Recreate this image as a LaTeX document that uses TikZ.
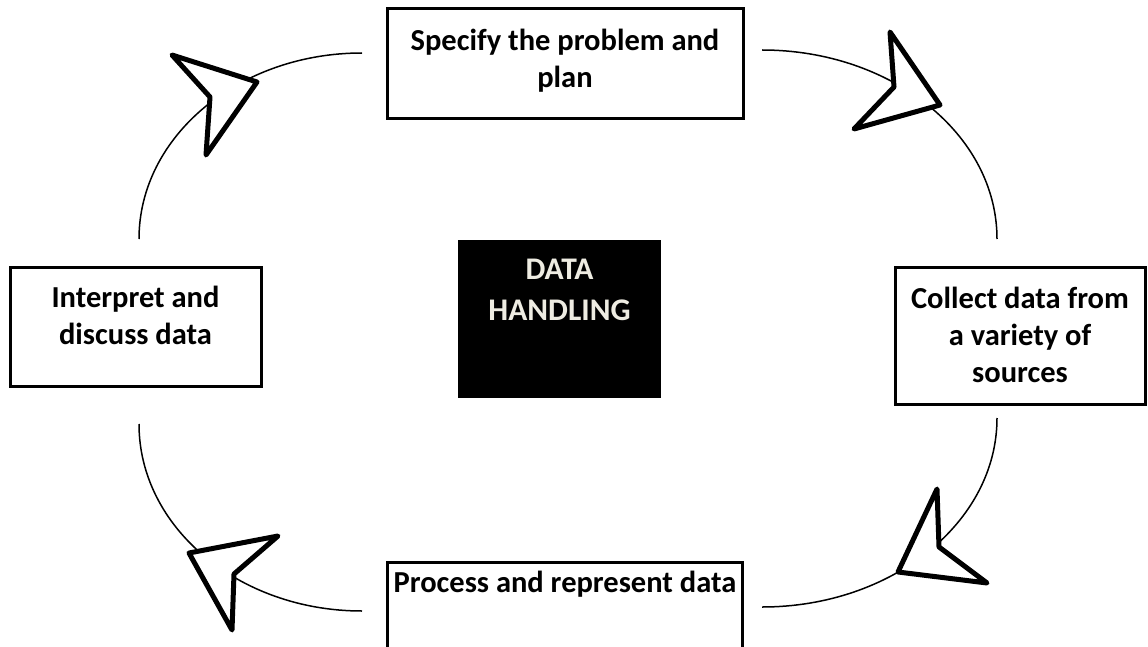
\documentclass[tikz,border=0pt]{standalone}
\usepackage{fontspec}
\setmainfont{Carlito}
\definecolor{dhtext}{RGB}{238,236,226}
\tikzset{
  stepbox/.style={draw, line width=3pt, fill=white, inner sep=0pt},
  corebox/.style={fill=black, inner sep=0pt},
  lbl/.style={align=center, inner sep=0pt, font=\fontsize{30.5}{37}\selectfont\bfseries},
  corelbl/.style={align=center, inner sep=0pt, text=dhtext, font=\fontsize{31.5}{41}\selectfont\bfseries},
  cyclearc/.style={line width=1.5pt},
  headshape/.style={draw, fill=white, line width=5pt, line join=round}
}
\begin{document}
\begin{tikzpicture}[x=1pt,y=-1pt]
\useasboundingbox (0,0) rectangle (1148,647);
\clip (0,0) rectangle (1148,647);

% boxes
\node[stepbox, minimum width=356pt, minimum height=110pt] (spec) at (565,64) {};
\node[stepbox, minimum width=250pt, minimum height=137pt] (coll) at (1020,335.5) {};
\node[stepbox, minimum width=251pt, minimum height=119pt] (interp) at (135.5,326.5) {};
\node[stepbox, minimum width=355pt, minimum height=120pt] (proc) at (564.5,622) {};
\node[corebox, minimum width=203pt, minimum height=158pt] (core) at (559.5,319) {};

% labels
\node[lbl] (specT) at (565,61) {Specify the problem and\\plan};
\node[lbl] (collT) at (1020,335) {Collect data from\\a variety of\\sources};
\node[lbl] (interpT) at (135.5,315) {Interpret and\\discuss data};
\node[lbl] (procT) at (565,584) {Process and represent data};
\node[corelbl] (coreT) at (559.5,290) {DATA\\HANDLING};

% arc end points
\coordinate (tlA) at (139,239);
\coordinate (tlB) at (362,53);
\coordinate (trA) at (762,50);
\coordinate (trB) at (997,239);
\coordinate (brA) at (997,418);
\coordinate (brB) at (762,607);
\coordinate (blA) at (362,611);
\coordinate (blB) at (139,424);

% arcs (quarter ellipses)
\draw[cyclearc] (tlA) .. controls (139,136.3) and (238.8,53) .. (tlB);
\draw[cyclearc] (trA) .. controls (891.8,50) and (997,134.6) .. (trB);
\draw[cyclearc] (brA) .. controls (997,522.4) and (891.8,607) .. (brB);
\draw[cyclearc] (blA) .. controls (238.8,611) and (139,527.3) .. (blB);

% arrowheads
\draw[headshape] (172,55) -- (257,82) -- (206,155) -- (210,97) -- cycle;
\draw[headshape] (890,32) -- (940,105) -- (854,129) -- (894,87) -- cycle;
\draw[headshape] (937,489) -- (898,572) -- (987,583) -- (939,547) -- cycle;
\draw[headshape] (278,536) -- (189,553) -- (232,630) -- (234,574) -- cycle;
\end{tikzpicture}
\end{document}
